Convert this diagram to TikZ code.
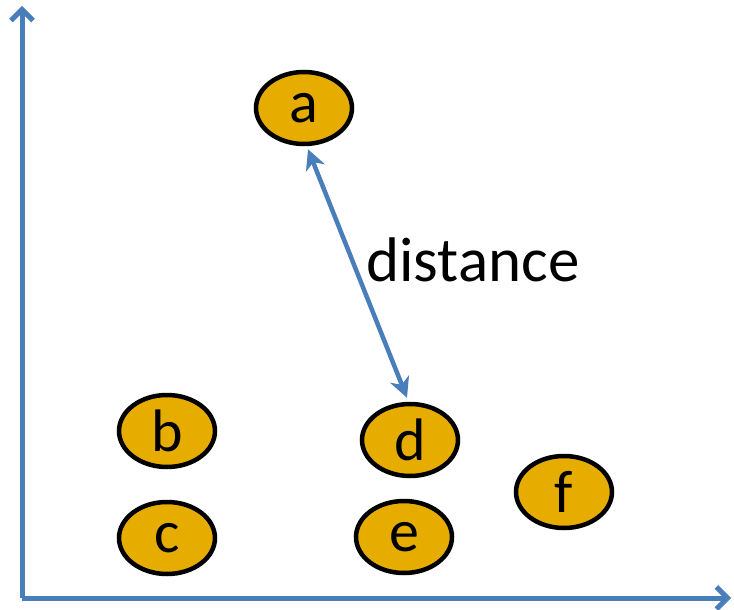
\documentclass[tikz,border=0pt]{standalone}
\usepackage{fontspec}
\setmainfont{Carlito}
\usetikzlibrary{positioning,arrows.meta,shapes.geometric,calc}
\definecolor{PointGold}{RGB}{230,172,0}
\definecolor{AxisBlue}{RGB}{74,126,187}

\begin{document}
\begin{tikzpicture}[x=1pt, y=-1pt,
  point/.style={draw, ellipse, line width=4.5pt, fill=PointGold, minimum width=96pt, minimum height=72pt, inner sep=0pt, font=\fontsize{60}{60}\selectfont},
  axis/.style={line width=5pt, AxisBlue, -{Straight Barb[length=11pt, width=22pt, line width=5pt]}}]
  \useasboundingbox (0,0) rectangle (734,610);
  \coordinate (origin) at (22,598);
  \coordinate (ytop) at (22,6);
  \coordinate (xend) at (731,598);
  \draw[axis] (origin) -- (ytop);
  \draw[axis] (origin) -- (xend);
  \node[point] (a) at (304,108) {a};
  \node[point] (b) at (167,431) {b};
  \node[point] (c) at (167,538) {c};
  \node[point] (d) at (410,440) {d};
  \node[point] (e) at (404,537) {e};
  \node[point] (f) at (564,492) {f};
  \coordinate (aend) at ($(a.south)+(4,3)$);
  \coordinate (dend) at ($(d.north)+(-3,-4)$);
  \draw[line width=4.5pt, AxisBlue, {Stealth[length=20pt, width=20pt, inset=6pt]}-{Stealth[length=20pt, width=20pt, inset=6pt]}] (aend) -- (dend);
  \node[font=\fontsize{63}{63}\selectfont] (label) at (473,260) {distance};
\end{tikzpicture}
\end{document}
